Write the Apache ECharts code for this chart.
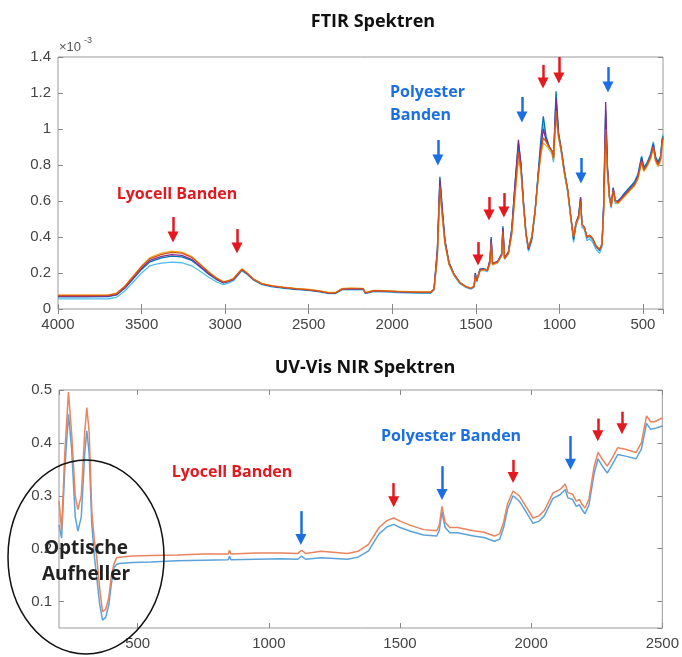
<!DOCTYPE html>
<html>
<head>
<meta charset="utf-8">
<script src="https://cdn.jsdelivr.net/npm/echarts@6/dist/echarts.min.js"></script>
<style>
  html, body { margin: 0; padding: 0; background: #fff; }
  #main { width: 682px; height: 657px; }
</style>
</head>
<body>
<div id="main"></div>
<script>
// FTIR: wavenumber (cm-1), absorbance x 1e-3
var ftirWn = [4000, 3850, 3700, 3650, 3600, 3550, 3500, 3450, 3420, 3380,
    3320, 3260, 3200, 3150, 3100, 3050, 3010, 2980, 2950, 2920,
    2900, 2870, 2830, 2780, 2720, 2650, 2580, 2510, 2440, 2380,
    2340, 2300, 2250, 2175, 2160, 2110, 2040, 1970, 1900, 1830,
    1770, 1750, 1730, 1715, 1700, 1685, 1660, 1630, 1595, 1560,
    1530, 1510, 1503, 1495, 1475, 1455, 1430, 1415, 1408, 1400,
    1370, 1345, 1338, 1328, 1305, 1285, 1265, 1245, 1230, 1215,
    1200, 1185, 1165, 1145, 1125, 1110, 1096, 1080, 1060, 1045,
    1035, 1020, 1005, 990, 970, 950, 930, 915, 900, 885,
    873, 865, 850, 835, 820, 800, 780, 760, 745, 735,
    723, 712, 700, 690, 678, 665, 650, 630, 610, 590,
    570, 550, 530, 508, 495, 475, 455, 438, 425, 410,
    395, 385, 380];

var ftirLightBlue = [0.056, 0.056, 0.057, 0.065, 0.1, 0.15, 0.2, 0.24, 0.248, 0.255,
    0.26, 0.257, 0.24, 0.21, 0.178, 0.15, 0.136, 0.144, 0.157, 0.19,
    0.212, 0.193, 0.16, 0.135, 0.123, 0.115, 0.108, 0.103, 0.095, 0.085,
    0.085, 0.106, 0.108, 0.107, 0.085, 0.096, 0.094, 0.091, 0.089, 0.087,
    0.087, 0.105, 0.31, 0.71, 0.53, 0.37, 0.248, 0.185, 0.14, 0.12,
    0.11, 0.12, 0.19, 0.15, 0.21, 0.214, 0.208, 0.265, 0.385, 0.245,
    0.255, 0.298, 0.45, 0.276, 0.308, 0.43, 0.68, 0.9, 0.79, 0.585,
    0.41, 0.32, 0.38, 0.535, 0.76, 0.92, 1.03, 0.94, 0.885, 0.865,
    0.815, 1.17, 0.96, 0.88, 0.75, 0.645, 0.485, 0.37, 0.465, 0.5,
    0.6, 0.455, 0.44, 0.38, 0.39, 0.37, 0.33, 0.31, 0.345, 0.56,
    1.08, 0.77, 0.61, 0.56, 0.66, 0.585, 0.59, 0.615, 0.64, 0.66,
    0.685, 0.71, 0.75, 0.85, 0.79, 0.815, 0.86, 0.93, 0.85, 0.82,
    0.85, 0.95, 0.97];

var ftirBlue = [0.068, 0.068, 0.069, 0.078, 0.115, 0.168, 0.22, 0.262, 0.272, 0.284,
    0.294, 0.29, 0.27, 0.233, 0.195, 0.163, 0.145, 0.152, 0.164, 0.196,
    0.217, 0.197, 0.163, 0.138, 0.126, 0.118, 0.111, 0.106, 0.098, 0.088,
    0.088, 0.11, 0.112, 0.111, 0.088, 0.1, 0.098, 0.095, 0.093, 0.091,
    0.091, 0.112, 0.33, 0.735, 0.55, 0.385, 0.258, 0.194, 0.147, 0.125,
    0.114, 0.125, 0.2, 0.158, 0.222, 0.224, 0.218, 0.275, 0.4, 0.254,
    0.264, 0.308, 0.46, 0.284, 0.318, 0.445, 0.7, 0.92, 0.81, 0.6,
    0.425, 0.33, 0.39, 0.55, 0.78, 0.95, 1.07, 0.96, 0.9, 0.88,
    0.83, 1.21, 0.98, 0.9, 0.77, 0.66, 0.5, 0.385, 0.48, 0.52,
    0.62, 0.47, 0.455, 0.395, 0.405, 0.385, 0.345, 0.325, 0.36, 0.58,
    1.1, 0.78, 0.625, 0.575, 0.675, 0.6, 0.6, 0.62, 0.645, 0.665,
    0.685, 0.705, 0.745, 0.845, 0.785, 0.81, 0.855, 0.92, 0.845, 0.815,
    0.845, 0.94, 0.96];

var ftirPurple = [0.07, 0.07, 0.071, 0.08, 0.118, 0.172, 0.226, 0.27, 0.28, 0.292,
    0.302, 0.298, 0.276, 0.238, 0.198, 0.165, 0.146, 0.153, 0.165, 0.197,
    0.218, 0.198, 0.164, 0.139, 0.127, 0.119, 0.112, 0.107, 0.099, 0.089,
    0.089, 0.111, 0.113, 0.112, 0.089, 0.101, 0.099, 0.096, 0.094, 0.092,
    0.092, 0.112, 0.33, 0.72, 0.54, 0.38, 0.255, 0.192, 0.146, 0.125,
    0.115, 0.126, 0.2, 0.156, 0.22, 0.222, 0.216, 0.27, 0.39, 0.252,
    0.262, 0.305, 0.45, 0.282, 0.315, 0.44, 0.7, 0.94, 0.8, 0.59,
    0.42, 0.335, 0.395, 0.55, 0.76, 0.9, 1.0, 0.94, 0.9, 0.88,
    0.84, 1.17, 0.97, 0.89, 0.76, 0.66, 0.5, 0.395, 0.48, 0.515,
    0.62, 0.47, 0.455, 0.4, 0.41, 0.39, 0.35, 0.33, 0.36, 0.58,
    1.15, 0.78, 0.62, 0.57, 0.67, 0.6, 0.595, 0.615, 0.635, 0.655,
    0.675, 0.695, 0.735, 0.835, 0.775, 0.8, 0.845, 0.91, 0.835, 0.805,
    0.835, 0.93, 0.95];

var ftirYellow = [0.077, 0.077, 0.078, 0.088, 0.128, 0.184, 0.24, 0.285, 0.296, 0.31,
    0.322, 0.316, 0.292, 0.25, 0.208, 0.172, 0.152, 0.158, 0.17, 0.203,
    0.223, 0.202, 0.167, 0.142, 0.13, 0.122, 0.115, 0.11, 0.102, 0.092,
    0.092, 0.114, 0.116, 0.115, 0.092, 0.104, 0.102, 0.099, 0.097, 0.095,
    0.095, 0.11, 0.28, 0.64, 0.5, 0.36, 0.245, 0.188, 0.145, 0.126,
    0.117, 0.126, 0.18, 0.156, 0.212, 0.218, 0.214, 0.25, 0.34, 0.245,
    0.258, 0.295, 0.4, 0.278, 0.305, 0.41, 0.63, 0.83, 0.76, 0.57,
    0.415, 0.345, 0.405, 0.55, 0.74, 0.86, 0.92, 0.91, 0.885, 0.87,
    0.83, 1.06, 0.95, 0.88, 0.75, 0.65, 0.49, 0.4, 0.48, 0.5,
    0.57, 0.47, 0.45, 0.4, 0.41, 0.39, 0.35, 0.335, 0.36, 0.53,
    0.95, 0.74, 0.61, 0.57, 0.65, 0.6, 0.585, 0.605, 0.625, 0.645,
    0.665, 0.685, 0.72, 0.81, 0.765, 0.79, 0.83, 0.89, 0.82, 0.79,
    0.82, 0.9, 0.93];

var ftirOrange = [0.075, 0.075, 0.076, 0.086, 0.125, 0.18, 0.235, 0.28, 0.29, 0.303,
    0.315, 0.31, 0.287, 0.247, 0.205, 0.17, 0.15, 0.156, 0.168, 0.2,
    0.22, 0.2, 0.165, 0.14, 0.128, 0.12, 0.113, 0.108, 0.1, 0.09,
    0.09, 0.112, 0.114, 0.113, 0.09, 0.102, 0.1, 0.097, 0.095, 0.093,
    0.093, 0.11, 0.3, 0.68, 0.52, 0.37, 0.25, 0.19, 0.145, 0.125,
    0.115, 0.125, 0.19, 0.155, 0.215, 0.22, 0.215, 0.26, 0.37, 0.25,
    0.26, 0.3, 0.43, 0.28, 0.31, 0.42, 0.65, 0.87, 0.78, 0.58,
    0.42, 0.34, 0.4, 0.55, 0.75, 0.88, 0.95, 0.93, 0.9, 0.88,
    0.84, 1.1, 0.96, 0.89, 0.76, 0.66, 0.5, 0.4, 0.48, 0.51,
    0.6, 0.47, 0.45, 0.4, 0.41, 0.39, 0.35, 0.33, 0.36, 0.55,
    1.0, 0.76, 0.62, 0.57, 0.66, 0.6, 0.59, 0.61, 0.63, 0.65,
    0.67, 0.69, 0.73, 0.82, 0.77, 0.8, 0.84, 0.9, 0.83, 0.8,
    0.83, 0.92, 0.95];

// UV-Vis NIR: wavelength (nm), absorbance
var uvNm = [200, 210, 222, 236, 248, 262, 272, 285, 298, 306,
    315, 325, 335, 344, 355, 366, 378, 390, 400, 410,
    420, 430, 480, 550, 650, 750, 845, 850, 855, 950,
    1050, 1110, 1125, 1140, 1200, 1300, 1340, 1380, 1420, 1450,
    1476, 1500, 1540, 1590, 1640, 1650, 1660, 1672, 1690, 1720,
    1780, 1820, 1860, 1880, 1895, 1910, 1931, 1955, 1980, 2007,
    2030, 2050, 2083, 2110, 2130, 2140, 2158, 2172, 2184, 2195,
    2205, 2220, 2240, 2255, 2270, 2290, 2310, 2330, 2360, 2400,
    2420, 2440, 2455, 2470, 2500];

var uvOrange = [0.29, 0.235, 0.38, 0.496, 0.42, 0.3, 0.274, 0.3, 0.42, 0.467,
    0.42, 0.271, 0.215, 0.183, 0.125, 0.081, 0.085, 0.108, 0.15, 0.172,
    0.183, 0.184, 0.186, 0.187, 0.188, 0.19, 0.19, 0.197, 0.19, 0.192,
    0.192, 0.191, 0.197, 0.191, 0.195, 0.191, 0.195, 0.208, 0.24, 0.253,
    0.258, 0.252, 0.244, 0.236, 0.234, 0.245, 0.28, 0.25, 0.24, 0.24,
    0.234, 0.231, 0.224, 0.228, 0.25, 0.285, 0.309, 0.3, 0.28, 0.258,
    0.262, 0.272, 0.305, 0.312, 0.322, 0.306, 0.303, 0.29, 0.293, 0.283,
    0.277, 0.293, 0.355, 0.382, 0.37, 0.356, 0.372, 0.391, 0.388, 0.382,
    0.4, 0.451, 0.44, 0.44, 0.447];

var uvBlue = [0.245, 0.22, 0.35, 0.454, 0.39, 0.26, 0.233, 0.26, 0.38, 0.423,
    0.38, 0.246, 0.185, 0.145, 0.095, 0.065, 0.07, 0.094, 0.135, 0.165,
    0.17, 0.172, 0.174, 0.175, 0.177, 0.178, 0.179, 0.186, 0.179, 0.18,
    0.181, 0.18, 0.186, 0.18, 0.183, 0.18, 0.184, 0.196, 0.228, 0.241,
    0.246, 0.24, 0.233, 0.226, 0.224, 0.235, 0.27, 0.24, 0.23, 0.23,
    0.224, 0.221, 0.214, 0.218, 0.24, 0.275, 0.3, 0.29, 0.27, 0.248,
    0.252, 0.262, 0.295, 0.302, 0.312, 0.296, 0.293, 0.28, 0.283, 0.273,
    0.266, 0.282, 0.342, 0.37, 0.357, 0.343, 0.36, 0.378, 0.375, 0.37,
    0.388, 0.437, 0.426, 0.427, 0.432];

// band arrows: [position, from, to, colour]
var RED = '#e3191f', BLUE = '#1c6fe3';
var ftirArrows = [
    [3312, 0.511, 0.40, RED], [2929, 0.444, 0.339, RED],
    [1727, 0.939, 0.828, BLUE], [1224, 1.178, 1.067, BLUE],
    [709, 1.344, 1.234, BLUE], [871, 0.839, 0.728, BLUE],
    [1487, 0.372, 0.272, RED], [1421, 0.622, 0.522, RED],
    [1332, 0.644, 0.539, RED], [1098, 1.356, 1.256, RED],
    [1003, 1.40, 1.284, RED]
];
var uvArrows = [
    [1122, 0.271, 0.2175, BLUE], [1476, 0.324, 0.2885, RED],
    [1660, 0.356, 0.3025, BLUE], [1931, 0.368, 0.3345, RED],
    [2150, 0.413, 0.3595, BLUE], [2254, 0.446, 0.4135, RED],
    [2346, 0.459, 0.4265, RED]
];

function pairs(xs, ys) {
    return xs.map(function (x, i) { return [x, ys[i]]; });
}

function arrowMarks(list) {
    return {
        silent: true,
        animation: false,
        symbol: ['none', 'triangle'],
        symbolSize: 11,
        label: {show: false},
        lineStyle: {width: 2.5, type: 'solid'},
        data: list.map(function (a) {
            return [{coord: [a[0], a[1]], lineStyle: {color: a[3]}, itemStyle: {color: a[3]}},
                {coord: [a[0], a[2]]}];
        })
    };
}

function plain(v) {
    return String(Math.round(v * 1000) / 1000);
}

var axisLabelStyle = {fontFamily: '"Liberation Sans", Arial', fontSize: 15, color: '#444', formatter: plain};
var tickStyle = {inside: true, length: 5, lineStyle: {color: '#888'}};

function xAx(grid, pos, min, max, inverse, split) {
    return {
        gridIndex: grid, type: 'value', position: pos, min: min, max: max,
        inverse: inverse, splitNumber: split,
        axisLine: {show: false}, axisTick: tickStyle, splitLine: {show: false},
        axisLabel: pos === 'bottom'
            ? Object.assign({margin: 8, showMinLabel: false}, axisLabelStyle)
            : {show: false}
    };
}

function yAx(grid, pos, min, max, opts) {
    return Object.assign({
        gridIndex: grid, type: 'value', position: pos, min: min, max: max,
        axisLine: {show: false}, axisTick: tickStyle, splitLine: {show: false},
        axisLabel: pos === 'left'
            ? Object.assign({margin: 7}, axisLabelStyle, opts.label || {})
            : {show: false}
    }, opts.extra || {});
}

var ftirSeries = [
    ['#4DBEEE', ftirLightBlue], ['#0072BD', ftirBlue], ['#7E2F8E', ftirPurple],
    ['#EDB120', ftirYellow], ['#D95319', ftirOrange]
].map(function (s) {
    return {
        type: 'line', xAxisIndex: 0, yAxisIndex: 0, showSymbol: false, silent: true,
        data: pairs(ftirWn, s[1]), lineStyle: {color: s[0], width: 1.3}, itemStyle: {color: s[0]}
    };
});
ftirSeries[ftirSeries.length - 1].markLine = arrowMarks(ftirArrows);

var uvSeries = [
    ['#5aa2d8', uvBlue], ['#e8845e', uvOrange]
].map(function (s) {
    return {
        type: 'line', xAxisIndex: 2, yAxisIndex: 2, showSymbol: false, silent: true,
        data: pairs(uvNm, s[1]), lineStyle: {color: s[0], width: 1.5}, itemStyle: {color: s[0]}
    };
});
uvSeries[uvSeries.length - 1].markLine = arrowMarks(uvArrows);

var boldFont = '"Open Sans", "Noto Sans", sans-serif';

var option = {
    animation: false,
    backgroundColor: '#fff',
    grid: [
        {left: 58, top: 57, width: 605, height: 252, show: true, borderColor: '#999', borderWidth: 1},
        {left: 59, top: 390, width: 604, height: 238, show: true, borderColor: '#999', borderWidth: 1}
    ],
    xAxis: [
        xAx(0, 'bottom', 380, 4000, true, 8),
        xAx(0, 'top', 380, 4000, true, 8),
        xAx(1, 'bottom', 200, 2500, false, 5),
        xAx(1, 'top', 200, 2500, false, 5)
    ],
    yAxis: [
        yAx(0, 'left', 0, 1.4, {extra: {interval: 0.2}}),
        yAx(0, 'right', 0, 1.4, {extra: {interval: 0.2}}),
        yAx(1, 'left', 0.05, 0.5, {label: {showMinLabel: false}, extra: {splitNumber: 5}}),
        yAx(1, 'right', 0.05, 0.5, {extra: {splitNumber: 5}})
    ],
    series: ftirSeries.concat(uvSeries),
    graphic: [
        {type: 'text', x: 373, y: 22, z: 100, style: {text: 'FTIR Spektren', font: 'bold 18px ' + boldFont, fill: '#111', align: 'center', verticalAlign: 'middle'}},
        {type: 'text', x: 365, y: 368, z: 100, style: {text: 'UV-Vis NIR Spektren', font: 'bold 18px ' + boldFont, fill: '#111', align: 'center', verticalAlign: 'middle'}},
        {type: 'text', x: 59, y: 47, z: 100, style: {text: '×10', font: '13px "Liberation Sans", Arial', fill: '#555', verticalAlign: 'middle'}},
        {type: 'text', x: 84, y: 41, z: 100, style: {text: '-3', font: '9px "Liberation Sans", Arial', fill: '#555', verticalAlign: 'middle'}},
        {type: 'text', x: 177, y: 194, z: 100, style: {text: 'Lyocell Banden', font: 'bold 16px ' + boldFont, fill: RED, align: 'center', verticalAlign: 'middle'}},
        {type: 'text', x: 390, y: 92, z: 100, style: {text: 'Polyester', font: 'bold 16px ' + boldFont, fill: BLUE, verticalAlign: 'middle'}},
        {type: 'text', x: 390, y: 115, z: 100, style: {text: 'Banden', font: 'bold 16px ' + boldFont, fill: BLUE, verticalAlign: 'middle'}},
        {type: 'text', x: 232, y: 472, z: 100, style: {text: 'Lyocell Banden', font: 'bold 16px ' + boldFont, fill: RED, align: 'center', verticalAlign: 'middle'}},
        {type: 'text', x: 451, y: 436, z: 100, style: {text: 'Polyester Banden', font: 'bold 16px ' + boldFont, fill: BLUE, align: 'center', verticalAlign: 'middle'}},
        {type: 'ellipse', z: 100, shape: {cx: 86, cy: 557, rx: 78, ry: 97}, style: {fill: 'none', stroke: '#111', lineWidth: 1.5}},
        {type: 'text', x: 86, y: 549, z: 101, style: {text: 'Optische', font: 'bold 19px ' + boldFont, fill: '#222', align: 'center', verticalAlign: 'middle'}},
        {type: 'text', x: 86, y: 575, z: 101, style: {text: 'Aufheller', font: 'bold 19px ' + boldFont, fill: '#222', align: 'center', verticalAlign: 'middle'}}
    ]
};

var chart = echarts.init(document.getElementById('main'));
chart.setOption(option);
</script>
</body>
</html>
